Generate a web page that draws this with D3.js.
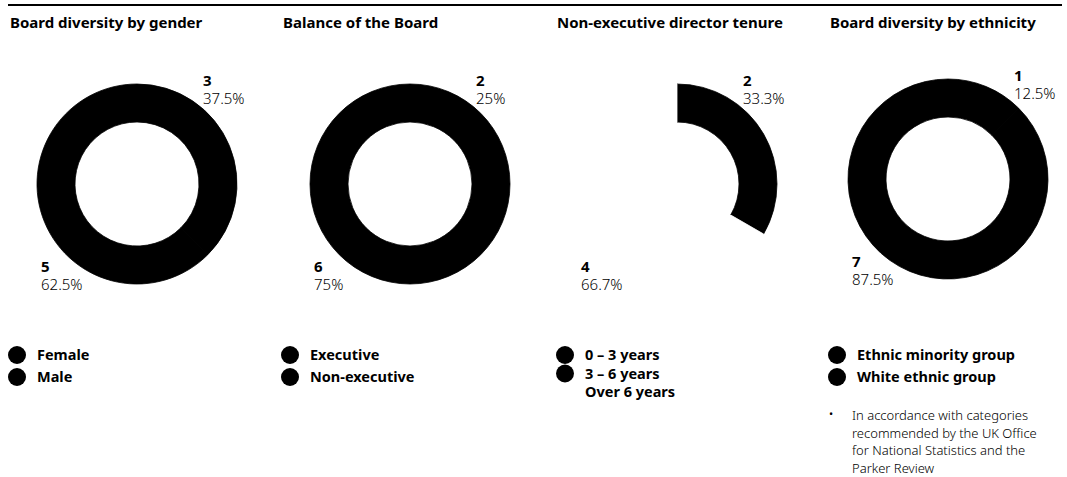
<!DOCTYPE html>
<html>
<head>
<meta charset="utf-8">
<script src="https://cdn.jsdelivr.net/npm/d3@7"></script>
<style>
  body { margin: 0; background: #fff; }
  text { font-family: "Noto Sans", sans-serif; fill: #000; }
</style>
</head>
<body>
<script>
let width = 1067
let height = 477

// data
const titles = ['Board diversity by gender', 'Balance of the Board', 'Non-executive director tenure', 'Board diversity by ethnicity']
const genderCats = ['Female', 'Male']
const genderVals = [3, 5]
const balanceCats = ['Executive', 'Non-executive']
const balanceVals = [2, 6]
const tenureCats = ['0 – 3 years', '3 – 6 years', 'Over 6 years']
const tenureVals = [2, 4, 0]
const ethnicCats = ['Ethnic minority group', 'White ethnic group']
const ethnicVals = [1, 7]
const pctLabels = [['37.5%', '62.5%'], ['25%', '75%'], ['33.3%', '66.7%'], ['12.5%', '87.5%']]
const footnote = ['In accordance with categories', 'recommended by the UK Office', 'for National Statistics and the', 'Parker Review']

const cats = [genderCats, balanceCats, tenureCats, ethnicCats]
const vals = [genderVals, balanceVals, tenureVals, ethnicVals]

// layout
const centers = [[137, 184], [410, 184], [677, 184], [948, 179]]
const titleX = [10, 283, 557, 830]
const legendX = [17, 290, 565, 837]
const legendStep = [22, 22, 18.5, 22]
const sliceColors = [['#000', '#000'], ['#000', '#000'], ['#000', '#fff', '#fff'], ['#000', '#000']]

const svg = d3.select('body')
    .append('svg')
    .attr('width', width)
    .attr('height', height)

svg.append('line')
    .attr('x1', 8).attr('x2', 1062)
    .attr('y1', 5).attr('y2', 5)
    .attr('stroke', '#000')
    .attr('stroke-width', 2)

const pie = d3.pie().sort(null).value(d => d)
const arc = d3.arc().innerRadius(62).outerRadius(100)

vals.forEach(function(v, i) {
    const g = svg.append('g')
    const cx = centers[i][0], cy = centers[i][1]

    g.append('text')
        .attr('x', titleX[i])
        .attr('y', 28)
        .style('font-size', '15px')
        .style('font-weight', 'bold')
        .text(titles[i])

    g.append('g')
        .attr('transform', `translate(${cx},${cy})`)
        .selectAll('path')
        .data(pie(v).filter(d => d.value > 0))
        .enter()
        .append('path')
            .attr('d', arc)
            .attr('fill', (d, j) => sliceColors[i][j])
            .attr('stroke', (d, j) => sliceColors[i][j])
            .attr('stroke-width', 0.8)

    // value labels: first slice top right, second bottom left
    const pos = [[cx + 66, cy - 98], [cx - 96, cy + 88]]
    pos.forEach(function(p, j) {
        g.append('text')
            .attr('x', p[0]).attr('y', p[1])
            .style('font-size', '15px')
            .style('font-weight', 'bold')
            .text(v[j])
        g.append('text')
            .attr('x', p[0]).attr('y', p[1] + 18)
            .style('font-size', '15px')
            .style('font-weight', '300')
            .text(pctLabels[i][j])
    })

    // legend
    cats[i].forEach(function(c, j) {
        const y = 355 + j * legendStep[i]
        if (v[j] > 0) {
            g.append('circle')
                .attr('cx', legendX[i])
                .attr('cy', y)
                .attr('r', 9)
                .attr('fill', '#000')
        }
        g.append('text')
            .attr('x', legendX[i] + 20)
            .attr('y', y + 5)
            .style('font-size', '14.5px')
            .style('font-weight', 'bold')
            .text(c)
    })
})

// footnote
svg.append('text')
    .attr('x', 829).attr('y', 418)
    .style('font-size', '11px')
    .text('•')
footnote.forEach(function(t, i) {
    svg.append('text')
        .attr('x', 852)
        .attr('y', 420 + i * 17.5)
        .style('font-size', '13px')
        .style('font-weight', '300')
        .text(t)
})
</script>
</body>
</html>
